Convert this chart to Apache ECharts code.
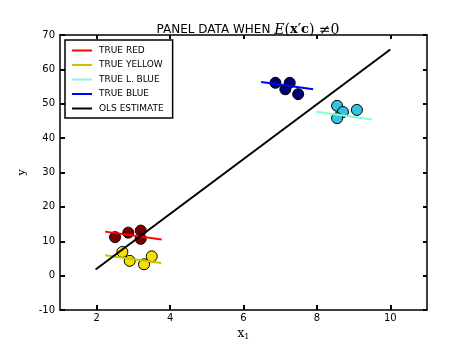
<!DOCTYPE html>
<html>
<head>
<meta charset="utf-8">
<script src="https://cdn.jsdelivr.net/npm/echarts@6/dist/echarts.min.js"></script>
<style>html,body{margin:0;padding:0;background:#fff}#c{width:474px;height:355px}</style>
</head>
<body>
<div id="c"></div>
<script>
// ---- data ----
const xTicks = [2, 4, 6, 8, 10];
const redX = [2.50, 2.86, 3.20, 3.20];
const redY = [11.2, 12.5, 13.1, 10.7];
const yellowX = [2.70, 2.90, 3.29, 3.50];
const yellowY = [6.9, 4.3, 3.3, 5.6];
const blueX = [6.87, 7.26, 7.14, 7.49];
const blueY = [56.1, 56.1, 54.2, 52.8];
const lblueX = [8.55, 8.71, 8.55, 9.09];
const lblueY = [49.4, 47.6, 45.8, 48.2];
const redLineX = [2.23, 3.77];
const redLineY = [12.8, 10.5];
const yellowLineX = [2.23, 3.76];
const yellowLineY = [5.9, 3.7];
const blueLineX = [6.48, 7.90];
const blueLineY = [56.3, 54.2];
const lblueLineX = [7.99, 9.50];
const lblueLineY = [47.7, 45.4];
const olsX = [1.97, 10.0];
const olsY = [1.8, 65.8];
const legendNames = ['TRUE RED', 'TRUE YELLOW', 'TRUE L. BLUE', 'TRUE BLUE', 'OLS ESTIMATE'];

const zip = (a, b) => a.map((v, i) => [v, b[i]]);
const font = 'DejaVu Sans';

function scat(x, y, color) {
  return {
    type: 'scatter', data: zip(x, y), symbol: 'circle', symbolSize: 11,
    itemStyle: { color: color, borderColor: '#000', borderWidth: 1, opacity: 1 },
    z: 2, silent: true
  };
}
function line(name, x, y, color) {
  return {
    name: name, type: 'line', data: zip(x, y), showSymbol: false, symbol: 'none',
    lineStyle: { color: color, width: 2 }, itemStyle: { color: color },
    z: 3, silent: true
  };
}

const chart = echarts.init(document.getElementById('c'), null, { renderer: 'canvas' });
chart.setOption({
  animation: false,
  backgroundColor: '#fff',
  title: {
    text: 'PANEL DATA WHEN {m|E}{n|(}{b|x′c}{n|) ≠0}',
    left: 243, top: 18, textAlign: 'center',
    textStyle: {
      fontFamily: font, fontSize: 12, fontWeight: 'normal', color: '#000',
      rich: {
        m: { fontFamily: 'DejaVu Serif', fontStyle: 'italic', fontSize: 14, color: '#000' },
        n: { fontFamily: 'DejaVu Serif', fontSize: 14, color: '#000' },
        b: { fontFamily: 'DejaVu Serif', fontWeight: 'bold', fontSize: 13, color: '#000' }
      }
    }
  },
  legend: {
    orient: 'vertical', left: 65, top: 40,
    data: legendNames.map(n => ({ name: n, icon: 'rect' })),
    itemWidth: 20, itemHeight: 2, itemGap: 5.5,
    padding: [6, 9, 5, 7],
    backgroundColor: '#fff', borderColor: '#000', borderWidth: 1.5,
    textStyle: { fontFamily: font, fontSize: 9, color: '#000', padding: [0, 0, 0, 2] }
  },
  grid: { left: 60, right: 47, top: 35, bottom: 45, show: false },
  xAxis: [{
    type: 'value', min: 1, max: 11, position: 'bottom',
    name: '{x|x}{s|1}', nameLocation: 'middle', nameGap: 9,
    nameTextStyle: { rich: { x: { fontFamily: 'DejaVu Serif', fontSize: 12, color: '#000' }, s: { fontFamily: 'DejaVu Serif', fontSize: 8, color: '#000', verticalAlign: 'bottom', padding: [6, 0, 0, 0] } } },
    axisLine: { onZero: false, lineStyle: { color: '#000', width: 1.5 } },
    axisTick: { inside: true, length: 5, lineStyle: { width: 2, color: '#000' }, customValues: xTicks },
    axisLabel: { customValues: xTicks, fontFamily: font, fontSize: 10, color: '#000', margin: 3 },
    splitLine: { show: false }
  }, {
    type: 'value', min: 1, max: 11, position: 'top',
    axisLine: { onZero: false, lineStyle: { color: '#000', width: 1.5 } },
    axisTick: { inside: true, length: 4, lineStyle: { width: 2, color: '#000' }, customValues: xTicks },
    axisLabel: { show: false }, splitLine: { show: false }
  }],
  yAxis: [{
    type: 'value', min: -10, max: 70, interval: 10, position: 'left',
    name: 'y', nameLocation: 'middle', nameGap: 16, nameRotate: 90,
    nameTextStyle: { fontFamily: 'DejaVu Serif', fontSize: 11, color: '#000' },
    axisLine: { onZero: false, lineStyle: { color: '#000', width: 1.5 } },
    axisTick: { inside: true, length: 5, lineStyle: { width: 2, color: '#000' } },
    axisLabel: { fontFamily: font, fontSize: 10, color: '#000', margin: 5 },
    splitLine: { show: false }
  }, {
    type: 'value', min: -10, max: 70, interval: 10, position: 'right',
    axisLine: { onZero: false, lineStyle: { color: '#000', width: 1.5 } },
    axisTick: { inside: true, length: 4, lineStyle: { width: 2, color: '#000' } },
    axisLabel: { show: false }, splitLine: { show: false }
  }],
  series: [
    scat(redX, redY, '#7a0000'),
    scat(yellowX, yellowY, '#f5e000'),
    scat(blueX, blueY, '#000070'),
    scat(lblueX, lblueY, '#33c5e0'),
    line('TRUE RED', redLineX, redLineY, '#ff0000'),
    line('TRUE YELLOW', yellowLineX, yellowLineY, '#c8c400'),
    line('TRUE L. BLUE', lblueLineX, lblueLineY, '#7fffd4'),
    line('TRUE BLUE', blueLineX, blueLineY, '#0000ff'),
    line('OLS ESTIMATE', olsX, olsY, '#000000')
  ]
});
</script>
</body>
</html>
